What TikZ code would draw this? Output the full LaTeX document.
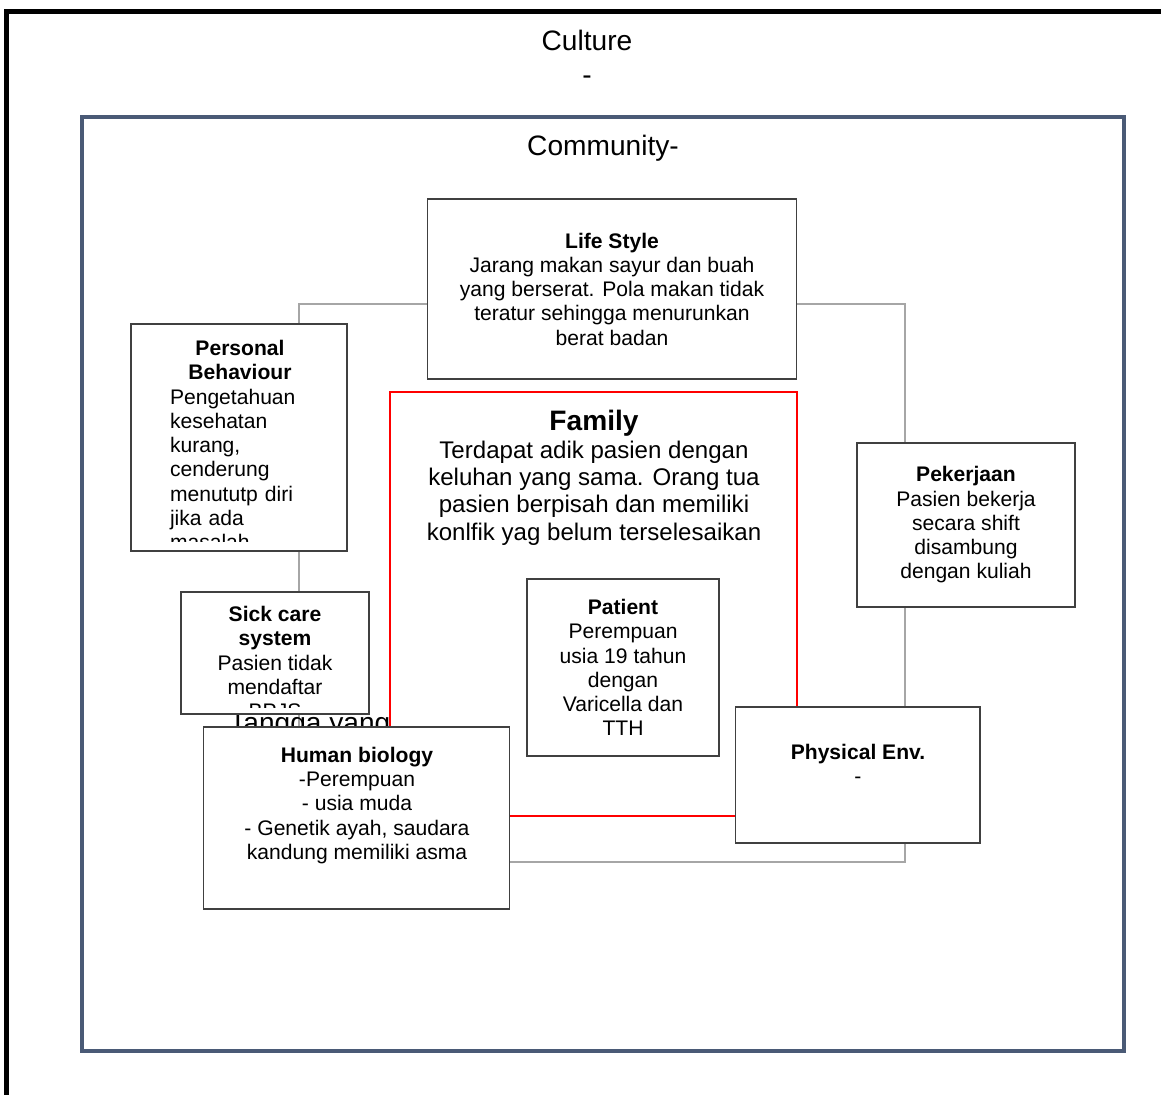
\documentclass[tikz,border=0pt]{standalone}
\usepackage{fontspec}
\setmainfont{Liberation Sans}
\usepackage{tikz}
\usetikzlibrary{positioning,calc}
\definecolor{commblue}{RGB}{74,90,118}
\definecolor{loopgray}{RGB}{166,166,166}

\begin{document}
\begin{tikzpicture}[x=0.02cm,y=-0.02cm]
\tikzstyle{B}=[draw=black!75,line width=0.6pt,fill=white,inner sep=0pt]
\tikzstyle{T}=[align=center,inner sep=0pt,font=\fontsize{12}{13.8}\selectfont]
\tikzstyle{big}=[inner sep=0pt,font=\fontsize{16}{19.3}\selectfont]
\useasboundingbox (0,0) rectangle (1161,1095);
% outer frame and titles
\draw[line width=2.8pt] (1161,11.5) -- (6.5,11.5) -- (6.5,1095);
\node[big,align=center] (culture) at (587,57) {Culture\\-};
\node[draw=commblue,line width=2pt,minimum width=20.84cm,minimum height=18.68cm] (comm) at (603,584) {};
\node[big,anchor=base] (commtxt) at (603,156) {Community-};
% grey loop behind the boxes
\coordinate (loopTL) at (299,304);
\coordinate (loopBR) at (905,862);
\draw[loopgray,line width=1.1pt] (loopTL) rectangle (loopBR);
% family
\node[draw=red,line width=1.1pt,minimum width=8.14cm,minimum height=8.48cm] (fam) at (593.5,604) {};
\node[align=center,inner sep=0pt,anchor=north,font=\fontsize{13.7}{15.6}\selectfont] (famtxt) at (594,410)
  {{\fontsize{16}{18}\selectfont\bfseries Family}\\Terdapat adik pasien dengan\\keluhan yang sama. Orang tua\\pasien berpisah dan memiliki\\konlfik yag belum terselesaikan};
\node[B,T,minimum width=3.84cm,minimum height=3.54cm] (pt) at (623,667.5)
  {\textbf{Patient}\\Perempuan\\usia 19 tahun\\dengan\\Varicella dan\\TTH};
\node[big,anchor=base west] (tangga) at (229,732) {Tangga yang};
% personal behaviour (text runs over)
\node[B,minimum width=4.32cm,minimum height=4.54cm] (pb) at (239,437.5) {};
\begin{scope}
\clip (131,324) rectangle (347,541.5);
\node[T,align=left,text width=2.8cm] (pbtxt) at (240,445)
  {\makebox[2.8cm][c]{\bfseries Personal}\\\makebox[2.8cm][c]{\bfseries Behaviour}\\Pengetahuan\\kesehatan\\kurang,\\cenderung\\menututp diri\\jika ada\\masalah};
\end{scope}
% sick care system (text runs over)
\node[B,minimum width=3.76cm,minimum height=2.44cm] (sc) at (275,653) {};
\begin{scope}
\clip (181,592) rectangle (369,707);
\node[T] (sctxt) at (275,662.5) {\textbf{Sick care}\\\textbf{system}\\Pasien tidak\\mendaftar\\BPJS};
\end{scope}
\node[B,T,minimum width=7.4cm,minimum height=3.6cm] (ls) at (612,289)
  {\textbf{Life Style}\\Jarang makan sayur dan buah\\yang berserat. Pola makan tidak\\teratur sehingga menurunkan\\berat badan};
\node[B,T,minimum width=4.36cm,minimum height=3.28cm] (pk) at (966,525)
  {\textbf{Pekerjaan}\\Pasien bekerja\\secara shift\\disambung\\dengan kuliah};
\node[B,minimum width=4.9cm,minimum height=2.72cm] (pe) at (857.5,775) {};
\node[T] (petxt) at (858,763.5) {\textbf{Physical Env.}\\-};
\node[B,minimum width=6.14cm,minimum height=3.64cm] (hb) at (356.5,818) {};
\node[T] (hbtxt) at (357,805.5)
  {\textbf{Human biology}\\-Perempuan\\- usia muda\\- Genetik ayah, saudara\\kandung memiliki asma};
\end{tikzpicture}
\end{document}
